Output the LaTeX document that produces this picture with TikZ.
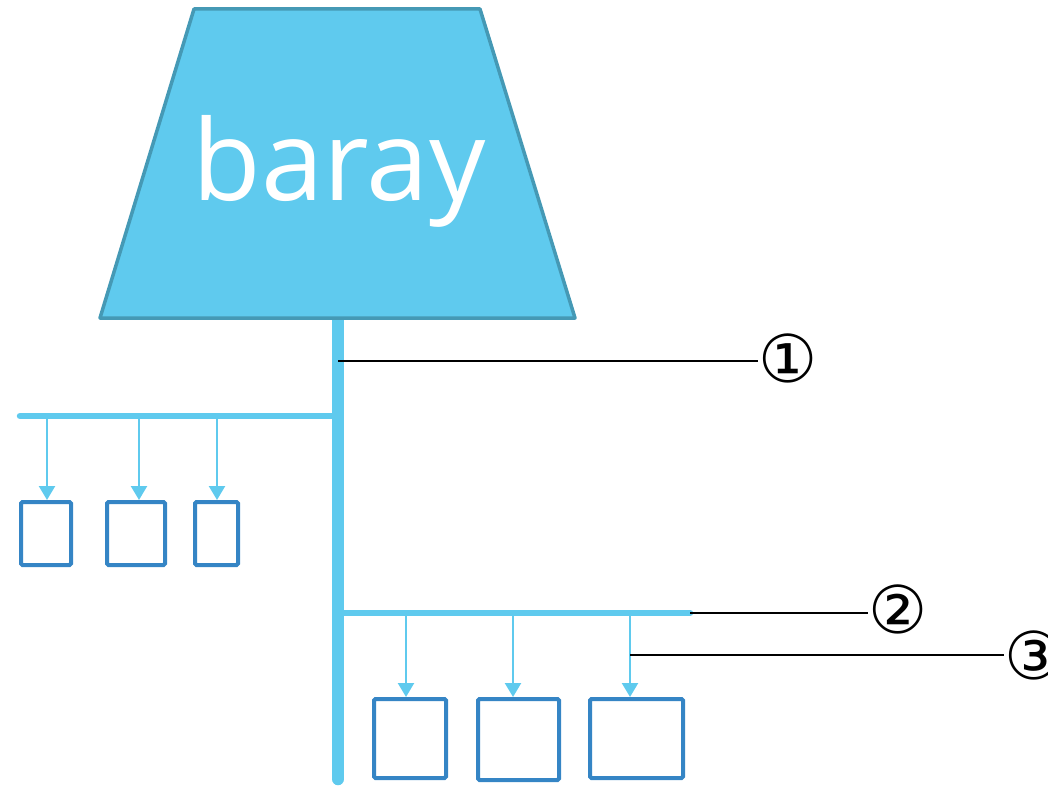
\documentclass[tikz,border=0pt]{standalone}
\usepackage{fontspec}
\setmainfont{Open Sans}
\newfontfamily\circfont{DejaVu Sans}
\usetikzlibrary{arrows.meta,calc}
\definecolor{skyfill}{HTML}{5FCAEE}
\definecolor{skyedge}{HTML}{4599B5}
\definecolor{boxblue}{HTML}{3585C5}
\tikzset{
  trunkline/.style={draw=skyfill,line width=12.5pt,line cap=round},
  branchline/.style={draw=skyfill,line width=6.5pt,line cap=round},
  droparrow/.style={draw=skyfill,line width=2.4pt,-{Triangle[width=16pt,length=14pt]}},
  leafbox/.style={draw=boxblue,line width=4pt,rounded corners=1.5pt,inner sep=0pt,fill=white},
  callout/.style={draw=black,line width=1.8pt},
  circnum/.style={inner sep=0pt,font=\circfont\fontsize{66}{66}\selectfont}
}
\begin{document}
\begin{tikzpicture}[x=1pt,y=-1pt]
\useasboundingbox (0,0) rectangle (1048,789);
% trapezoid
\coordinate (tl) at (194,9);
\coordinate (tr) at (480,9);
\coordinate (br) at (575,318);
\coordinate (bl) at (100,318);
\fill[skyfill] (tl) -- (tr) -- (br) -- (bl) -- cycle;
% trunk
\coordinate (trunktop) at (338,318);
\coordinate (trunkbot) at (338,779);
\draw[trunkline] (trunktop) -- (trunkbot);
\draw[skyedge,line width=3.5pt,line join=round] (tl) -- (tr) -- (br) -- (bl) -- cycle;
\node[anchor=base,text=white,inner sep=0pt,font=\fontsize{112}{130}\selectfont] (baray) at (339,200) {baray};
% left branch
\coordinate (lb1) at (20,416);
\coordinate (lb2) at (336,416);
\draw[branchline] (lb1) -- (lb2);
\node[leafbox,minimum width=50pt,minimum height=63pt] (b1) at (46,533.5) {};
\node[leafbox,minimum width=58pt,minimum height=63pt] (b2) at (136,533.5) {};
\node[leafbox,minimum width=43pt,minimum height=63pt] (b3) at (216.5,533.5) {};
\coordinate (la1) at (47,416);
\coordinate (la2) at (139,416);
\coordinate (la3) at (217,416);
\draw[droparrow] (la1) -- (la1 |- b1.north);
\draw[droparrow] (la2) -- (la2 |- b2.north);
\draw[droparrow] (la3) -- (la3 |- b3.north);
% right branch
\coordinate (rb1) at (340,613);
\coordinate (rb2) at (690,613);
\draw[branchline] (rb1) -- (rb2);
\node[leafbox,minimum width=72pt,minimum height=79pt] (bA) at (410,738.5) {};
\node[leafbox,minimum width=81pt,minimum height=81pt] (bB) at (518.5,739.5) {};
\node[leafbox,minimum width=93pt,minimum height=79pt] (bC) at (636.5,738.5) {};
\coordinate (ra1) at (406,613);
\coordinate (ra2) at (513,613);
\coordinate (ra3) at (630,613);
\draw[droparrow] (ra1) -- (ra1 |- bA.north);
\draw[droparrow] (ra2) -- (ra2 |- bB.north);
\draw[droparrow] (ra3) -- (ra3 |- bC.north);
% callouts
\node[circnum] (c1) at (788,358) {①};
\node[circnum] (c2) at (898,609) {②};
\node[circnum] (c3) at (1034,655) {③};
\coordinate (p1) at (338,361);
\coordinate (p2) at (690,613);
\coordinate (p3) at (630,655);
\draw[callout] (p1) -- (p1 -| c1.west);
\draw[callout] (p2) -- (p2 -| c2.west);
\draw[callout] (p3) -- (p3 -| c3.west);
\end{tikzpicture}
\end{document}
